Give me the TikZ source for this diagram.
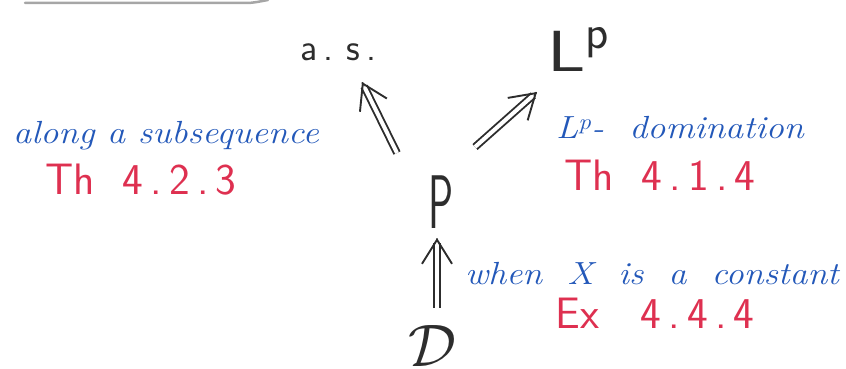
\documentclass[tikz,border=0pt]{standalone}
\usepackage{fontspec}
\usepackage{graphicx}
\usetikzlibrary{arrows.meta,calc}
\definecolor{inkblue}{RGB}{35,88,185}
\definecolor{inkred}{RGB}{222,48,80}
\definecolor{inkblack}{RGB}{45,45,45}
\begin{document}
\begin{tikzpicture}[x=1pt,y=-1pt,
  dbl/.style={draw=inkblack,double=white,double distance=4pt,line width=1.9pt,shorten >=5pt},
  barb/.style={draw=inkblack,line width=1.9pt,line cap=round,line join=round,-{Straight Barb[length=24pt,width=30pt,line width=1.9pt]}},
  blk/.style={text=inkblack,font=\sffamily,inner sep=0pt},
  bluetxt/.style={text=inkblue,font=\fontsize{32}{34}\selectfont\itshape,inner sep=0pt},
  redtxt/.style={text=inkred,font=\fontsize{44}{46}\selectfont\sffamily,inner sep=0pt}]
\useasboundingbox (0,0) rectangle (846,369);
% top-left border remnant
\draw[gray!70,line width=2.5pt,line cap=round] (25,3) -- (245,3) to[out=0,in=190] (268,0);
% main nodes
\node[blk,font=\fontsize{38}{40}\selectfont\sffamily,anchor=base west] (as) at (300,60) {a\,.\,\,s\,.};
\node[blk,font=\fontsize{58}{60}\selectfont\sffamily,anchor=base west] (Lp) at (547,72)
  {\scalebox{1.3}[1]{L}\raisebox{24pt}{\fontsize{48}{50}\selectfont p}};
\node[blk,anchor=base] (P) at (441,228) {\scalebox{0.55}[1]{\fontsize{76}{78}\selectfont P}};
\node[blk] (D) at (432,346) {\scalebox{6}{$\mathcal{D}$}};
% arrow end points
\coordinate (t1) at ($(P.base)+(-44,-75)$);
\coordinate (h1) at ($(as.base west)+(62,22)$);
\coordinate (t2) at ($(P.base)+(34,-81)$);
\coordinate (h2) at ($(Lp.base west)+(-10,20)$);
\coordinate (t3) at ($(D)+(5,-38)$);
\coordinate (h3) at ($(P.base)+(-4,10)$);
% arrows
\draw[dbl] (t1) -- (h1); \draw[barb] ($(h1)!1pt!(t1)$) -- (h1);
\draw[dbl] (t2) -- (h2); \draw[barb] ($(h2)!1pt!(t2)$) -- (h2);
\draw[dbl] (t3) -- (h3); \draw[barb] ($(h3)!1pt!(t3)$) -- (h3);
% labels
\node[bluetxt] (l1) at (166,136) {\scalebox{1.13}[1]{along a subsequence}};
\node[redtxt] (r1) at (141,180) {Th\ \ 4\,.\,2\,.\,3};
\node[bluetxt] (l2) at (680,128) {\scalebox{1.13}[1]{L\textsuperscript{p}-\ \ domination}};
\node[redtxt] (r2) at (660,175) {Th\ \ 4\,.\,1\,.\,4};
\node[bluetxt] (l3) at (652,274) {\scalebox{1.12}[1]{when\ \ X\ \ is\ \ a\ \ constant}};
\node[redtxt] (r3) at (655,313) {Ex\ \ \ 4\,.\,4\,.\,4};
\end{tikzpicture}
\end{document}
